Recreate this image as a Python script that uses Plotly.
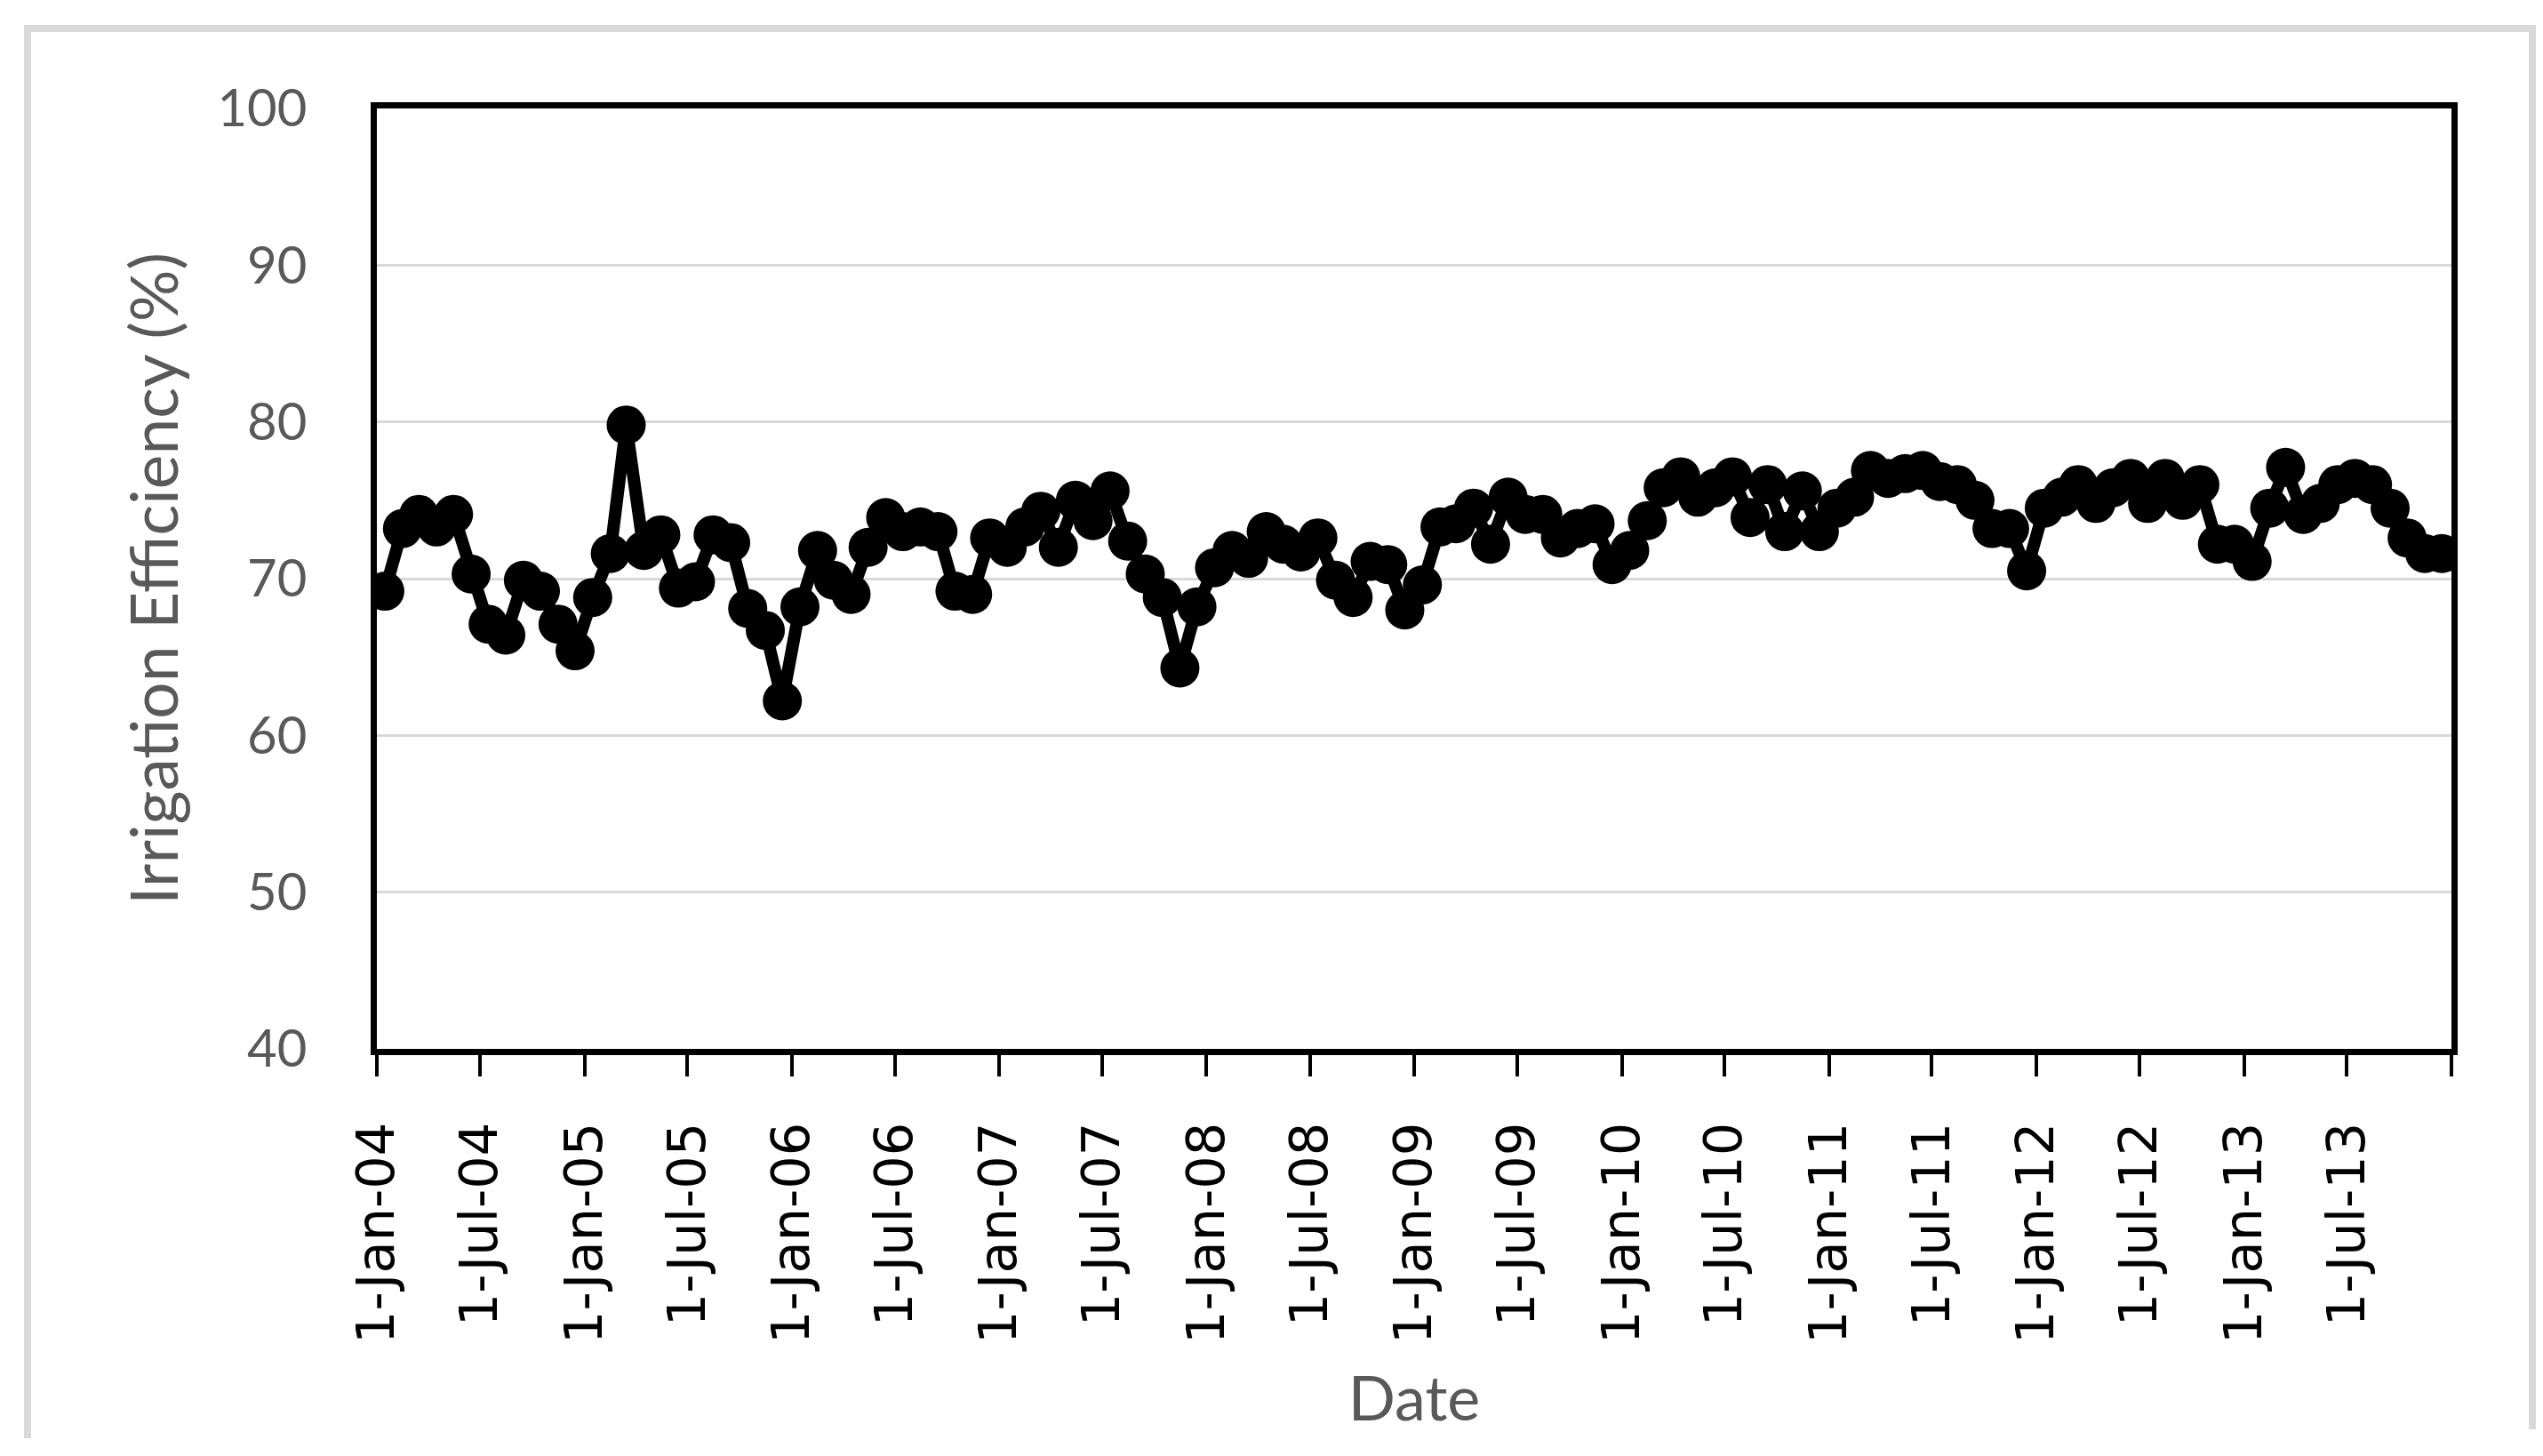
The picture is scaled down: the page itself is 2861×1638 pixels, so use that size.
import plotly.graph_objects as go

# monthly irrigation efficiency (%), Jan-2004 .. Dec-2013
eff_2004 = [69.2, 73.2, 74.1, 73.3, 74.1, 70.3, 67.1, 66.4, 69.9, 69.2, 67.1, 65.4]
eff_2005 = [68.8, 71.6, 79.8, 71.8, 72.8, 69.4, 69.8, 72.8, 72.3, 68.1, 66.7, 62.2]
eff_2006 = [68.2, 71.8, 69.9, 69.0, 72.0, 73.9, 73.0, 73.3, 73.0, 69.2, 69.0, 72.6]
eff_2007 = [72.0, 73.3, 74.3, 72.0, 75.0, 73.7, 75.6, 72.4, 70.3, 68.8, 64.3, 68.2]
eff_2008 = [70.7, 71.8, 71.3, 73.0, 72.2, 71.7, 72.6, 69.9, 68.8, 71.1, 70.9, 68.0]
eff_2009 = [69.6, 73.3, 73.5, 74.5, 72.2, 75.2, 74.1, 74.1, 72.6, 73.2, 73.5, 70.9]
eff_2010 = [71.8, 73.7, 75.8, 76.5, 75.2, 75.8, 76.5, 73.9, 76.0, 73.0, 75.6, 73.0]
eff_2011 = [74.5, 75.2, 76.9, 76.4, 76.7, 76.9, 76.2, 76.0, 75.0, 73.2, 73.2, 70.5]
eff_2012 = [74.5, 75.2, 76.0, 74.8, 75.8, 76.4, 74.8, 76.4, 75.0, 76.0, 72.2, 72.2]
eff_2013 = [71.1, 74.5, 77.1, 74.1, 74.8, 76.0, 76.4, 76.0, 74.5, 72.6, 71.6, 71.6]

years = [2004, 2005, 2006, 2007, 2008, 2009, 2010, 2011, 2012, 2013]
yearly = [eff_2004, eff_2005, eff_2006, eff_2007, eff_2008,
          eff_2009, eff_2010, eff_2011, eff_2012, eff_2013]

tick_dates = ["2004-01-01", "2004-07-01", "2005-01-01", "2005-07-01", "2006-01-01",
              "2006-07-01", "2007-01-01", "2007-07-01", "2008-01-01", "2008-07-01",
              "2009-01-01", "2009-07-01", "2010-01-01", "2010-07-01", "2011-01-01",
              "2011-07-01", "2012-01-01", "2012-07-01", "2013-01-01", "2013-07-01",
              "2014-01-01"]
tick_labels = ["1-Jan-04", "1-Jul-04", "1-Jan-05", "1-Jul-05", "1-Jan-06",
               "1-Jul-06", "1-Jan-07", "1-Jul-07", "1-Jan-08", "1-Jul-08",
               "1-Jan-09", "1-Jul-09", "1-Jan-10", "1-Jul-10", "1-Jan-11",
               "1-Jul-11", "1-Jan-12", "1-Jul-12", "1-Jan-13", "1-Jul-13",
               ""]

dates = []
values = []
for yr, vals in zip(years, yearly):
    for m, v in enumerate(vals):
        dates.append("{}-{:02d}-15".format(yr, m + 1))
        values.append(v)

W, H = 2861, 1638
L, R, T, B = 416, 2750, 114, 1172   # plot area in pixels

fig = go.Figure()
fig.add_trace(go.Scatter(x=dates, y=values, mode="lines+markers",
                         line=dict(color="black", width=14),
                         marker=dict(color="black", size=44),
                         showlegend=False))

gray = "#595959"
fig.update_layout(
    width=W, height=H,
    margin=dict(l=L, r=W - R, t=T, b=H - B),
    paper_bgcolor="white", plot_bgcolor="white",
    font=dict(family="Lato", color=gray),
)
fig.update_xaxes(
    type="date", range=["2004-01-01", "2014-01-01"], automargin=False,
    tickmode="array", tickvals=tick_dates, ticktext=tick_labels,
    tickangle=-90, ticks="outside", ticklen=24, tickwidth=4, tickcolor="black",
    tickfont=dict(family="DejaVu Sans", size=59, color="black"), ticklabelstandoff=28,
    showgrid=False, zeroline=False,
    showline=True, linewidth=7, linecolor="black", mirror=True,
    title=dict(text="Date", font=dict(family="Lato", size=70, color=gray), standoff=40),
)
fig.update_yaxes(
    range=[40, 100], automargin=False, tickmode="array", tickvals=[40, 50, 60, 70, 80, 90, 100],
    tickfont=dict(family="Lato", size=58, color=gray), ticklabelstandoff=60,
    showgrid=True, gridcolor="#d9d9d9", gridwidth=3, zeroline=False,
    showline=True, linewidth=7, linecolor="black", mirror=True,
    title=dict(text="Irrigation Efficiency (%)", font=dict(family="Lato", size=73, color=gray),
               standoff=22),
)

# light gray outer frame (open at the bottom)
def px_x(p):
    return (p - L) / (R - L)

def px_y(p):
    return (B - p) / (B - T)

fig.add_shape(type="path", xref="paper", yref="paper",
              path="M {} {} L {} {} L {} {} L {} {}".format(
                  px_x(23), px_y(1610), px_x(23), px_y(24),
                  px_x(2841), px_y(24), px_x(2841), px_y(1600)),
              line=dict(color="#d9d9d9", width=8))

fig.write_html("out.html")
